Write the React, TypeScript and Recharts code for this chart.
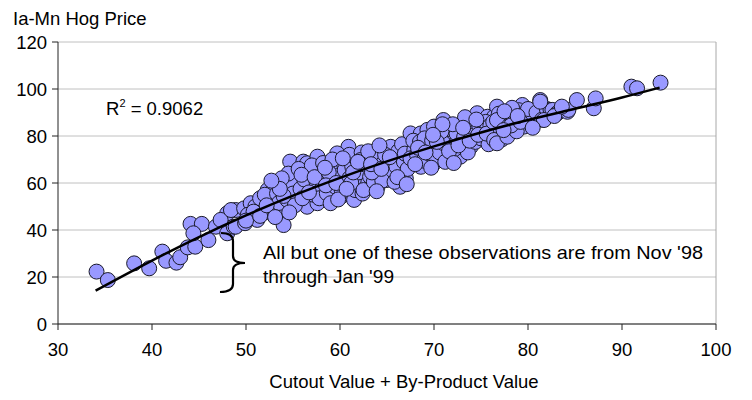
import React from 'react';
import { ScatterChart, Scatter, XAxis, YAxis, CartesianGrid, ReferenceLine } from 'recharts';

// Tick labels
const xTicks = [30, 40, 50, 60, 70, 80, 90, 100];
const yTicks = [0, 20, 40, 60, 80, 100, 120];

// Observations: [cutout + by-product value, Ia-Mn hog price]
const tailPoints: [number, number][] = [
  [34.1, 22.3], [35.3, 18.7], [38.1, 25.8], [39.7, 23.7], [41.1, 30.8], [41.5, 26.9],
  [42.6, 26.1], [43.0, 28.4], [44.1, 42.6], [45.3, 42.6], [43.8, 32.6], [44.6, 32.9],
  [44.4, 38.6], [46.0, 35.7], [46.8, 41.4], [48.0, 38.6], [48.0, 47.1], [47.3, 44.3],
  [48.9, 48.5], [48.7, 41.4],
];

const lowMidPoints: [number, number][] = [
  [48.4, 48.5], [48.9, 41.4], [49.8, 49.2], [50.5, 51.4], [49.9, 42.9], [51.2, 44.3],
  [51.9, 48.5], [52.3, 57.0], [53.0, 59.1], [53.7, 48.5], [54.0, 42.1], [50.2, 46.5],
  [51.0, 50.0], [52.5, 52.5], [52.8, 47.0], [51.5, 53.5], [50.8, 47.8], [52.0, 55.0],
  [53.3, 55.5], [53.5, 51.5],
  [54.7, 69.1], [55.4, 62.7], [56.1, 69.1], [56.5, 68.4], [57.6, 71.2], [57.9, 64.1],
  [56.9, 58.4], [55.4, 52.8], [54.4, 52.8], [56.5, 49.9], [57.6, 51.4], [54.2, 57.5],
  [54.8, 60.0], [55.0, 55.5], [55.8, 57.5], [56.2, 61.5], [56.8, 64.5], [57.2, 55.0],
  [57.5, 60.5], [58.0, 57.0], [54.5, 64.0], [55.6, 66.0], [57.0, 67.5], [58.2, 68.5],
  [53.8, 62.0], [55.2, 50.5], [56.0, 53.5], [57.8, 53.5], [58.3, 62.0], [54.0, 54.5],
  [50.0, 44.0], [51.5, 46.0], [52.2, 50.5], [53.1, 45.5], [54.6, 47.5], [55.9, 63.5],
  [56.7, 56.0], [57.3, 62.5], [53.6, 57.5], [52.7, 61.0],
];

const midPoints: [number, number][] = [
  [59.0, 61.3], [59.3, 66.9], [60.4, 68.4], [60.9, 75.4], [59.7, 72.6], [61.8, 71.2],
  [62.7, 70.5], [62.9, 62.7], [60.8, 59.9], [60.1, 54.2], [58.6, 55.6], [59.0, 51.4],
  [62.2, 58.4], [61.5, 52.8], [59.5, 58.5], [60.0, 63.5], [60.5, 65.5], [61.0, 62.0],
  [61.3, 67.0], [61.6, 57.0], [62.0, 64.5], [62.5, 68.0], [58.8, 64.5], [59.2, 70.0],
  [60.2, 56.5], [61.2, 60.0], [62.4, 55.5], [63.0, 60.0], [58.5, 59.0], [59.8, 53.0],
  [61.0, 72.0], [62.3, 73.0],
  [62.2, 69.8], [62.9, 69.8], [62.5, 57.0], [64.0, 58.4], [64.3, 74.0], [65.4, 75.4],
  [65.0, 66.9], [66.4, 64.1], [66.4, 71.2], [67.3, 75.4], [66.4, 58.4], [65.0, 61.3],
  [63.2, 62.7], [63.5, 66.0], [63.8, 70.5], [64.0, 63.5], [64.6, 68.5], [64.8, 72.0],
  [65.2, 64.0], [65.6, 69.5], [66.0, 67.0], [66.2, 73.5], [66.8, 69.0], [67.0, 62.0],
  [63.0, 73.5], [63.6, 60.5], [64.5, 61.0], [65.8, 60.5], [66.6, 76.5], [67.2, 66.0],
  [63.4, 64.5], [64.2, 76.0],
  [58.4, 66.5], [59.6, 60.0], [60.7, 57.5], [61.4, 64.5], [61.9, 69.0], [63.3, 68.0],
  [64.4, 66.0], [65.3, 71.0], [66.1, 62.5], [66.9, 72.5], [67.1, 59.5], [63.9, 56.5],
  [60.3, 70.5],
];

const highMidPoints: [number, number][] = [
  [67.5, 81.1], [67.9, 74.0], [68.6, 81.1], [69.3, 82.6], [70.0, 84.0], [71.0, 86.8],
  [69.3, 75.4], [68.6, 66.9], [70.0, 68.4], [70.7, 75.4], [71.4, 79.7], [71.8, 71.2],
  [67.5, 70.5], [67.8, 78.0], [68.2, 72.0], [68.5, 77.5], [68.9, 69.5], [69.0, 79.0],
  [69.5, 72.5], [69.8, 78.0], [70.2, 71.0], [70.4, 80.5], [70.6, 73.0], [71.0, 77.0],
  [71.2, 69.0], [71.5, 83.0], [71.9, 75.0], [68.0, 68.0], [69.7, 66.5], [70.8, 82.0],
  [72.5, 78.3], [72.8, 82.6], [73.5, 85.4], [74.2, 82.6], [74.6, 89.7], [75.7, 88.2],
  [76.4, 88.2], [76.7, 92.5], [75.3, 82.6], [76.2, 79.7], [73.9, 75.4], [72.8, 71.2],
  [72.2, 74.5], [72.4, 81.0], [73.0, 76.5], [73.2, 79.5], [73.6, 73.0], [74.0, 80.0],
  [74.4, 77.5], [74.8, 84.5], [75.0, 79.0], [75.5, 86.0], [75.8, 76.5], [76.0, 84.5],
  [76.6, 81.5], [77.0, 86.0], [77.2, 78.5], [73.3, 88.0], [72.0, 85.0], [76.9, 89.5],
  [68.3, 75.0], [69.1, 73.0], [70.3, 77.5], [71.6, 73.5], [72.6, 76.0], [73.8, 78.0],
  [74.7, 80.5], [75.6, 81.0], [76.3, 86.0], [72.1, 68.5], [73.1, 83.5], [74.5, 87.0],
  [70.9, 85.0], [69.9, 80.5],
];

const upperPoints: [number, number][] = [
  [76.7, 86.8], [76.4, 78.3], [76.7, 76.9], [78.1, 89.7], [77.9, 84.0], [77.8, 79.7],
  [79.4, 93.2], [79.6, 89.7], [79.6, 84.0], [80.3, 88.9], [80.6, 85.4], [81.3, 95.3],
  [81.3, 92.5], [81.9, 88.2], [78.5, 86.5], [78.8, 82.0], [79.0, 91.0], [79.8, 87.0],
  [80.0, 91.5], [80.9, 90.0], [81.5, 87.0], [82.0, 91.5], [78.3, 92.0], [77.5, 90.5],
  [82.4, 91.1], [82.6, 91.1], [83.1, 89.7], [83.3, 90.3], [84.2, 90.3], [84.3, 91.1],
  [85.2, 95.3], [87.0, 91.8], [87.2, 96.0], [91.0, 101.0], [91.6, 100.3], [94.1, 102.7],
  [81.7, 86.8], [81.3, 94.6],
  [78.2, 84.5], [79.2, 86.0], [80.5, 83.5], [78.9, 88.5], [77.4, 82.5], [82.8, 88.5],
  [83.6, 92.5],
];

// Polynomial trend line
const trendX = [34, 40, 45, 50, 55, 60, 65, 70, 75, 80, 85, 90, 94];
const trendY = [14.2, 27.0, 37.0, 46.2, 54.6, 62.2, 69.2, 75.6, 81.5, 86.8, 91.6, 96.4, 100.6];

const rSquared = '0.9062';

const observations = [...tailPoints, ...lowMidPoints, ...midPoints, ...highMidPoints, ...upperPoints].map(
  ([x, y]) => ({ x, y })
);
const trend = trendX.map((x, i) => ({ x, y: trendY[i] }));

const FONT = '"Liberation Sans", Arial, sans-serif';

const Dot = (props: any) => {
  const { cx, cy } = props;
  if (cx == null || cy == null) return <g />;
  return <circle cx={cx} cy={cy} r={7.5} fill="#9999FF" stroke="#1a1a2a" strokeWidth={1} />;
};

const NoDot = () => <g />;

const XTick = (props: any) => {
  const { x, y, payload } = props;
  return (
    <text x={x} y={y + 24} textAnchor="middle" fontSize={18.5} fontFamily={FONT} fill="#000">
      {payload.value}
    </text>
  );
};

const YTick = (props: any) => {
  const { x, y, payload } = props;
  return (
    <text x={x - 3} y={y + 6.5} textAnchor="end" fontSize={18.5} fontFamily={FONT} fill="#000">
      {payload.value}
    </text>
  );
};

export default function App() {
  return (
    <div style={{ position: 'absolute', left: 0, top: 0, width: 752, height: 400, background: '#fff' }}>
      <ScatterChart width={752} height={400} margin={{ top: 42, right: 36, bottom: 46, left: 0 }}>
        <CartesianGrid horizontal vertical={false} stroke="#c0c0c0" strokeWidth={1} />
        <XAxis
          type="number"
          dataKey="x"
          domain={[30, 100]}
          ticks={xTicks}
          height={30}
          tickSize={6}
          tick={<XTick />}
          axisLine={{ stroke: '#222' }}
          tickLine={{ stroke: '#222' }}
          allowDataOverflow
        />
        <YAxis
          type="number"
          dataKey="y"
          domain={[0, 120]}
          ticks={yTicks}
          width={58}
          tickSize={6}
          tick={<YTick />}
          axisLine={{ stroke: '#222' }}
          tickLine={{ stroke: '#222' }}
          allowDataOverflow
        />
        <ReferenceLine x={100} stroke="#a8a8a8" strokeWidth={1} />
        <Scatter data={observations} shape={<Dot />} isAnimationActive={false} />
        <Scatter
          data={trend}
          shape={<NoDot />}
          line={{ stroke: '#000', strokeWidth: 2.5 }}
          lineJointType="monotoneX"
          isAnimationActive={false}
        />
      </ScatterChart>
      <svg
        width={752}
        height={400}
        style={{ position: 'absolute', left: 0, top: 0, pointerEvents: 'none' }}
        fontFamily={FONT}
      >
        <text x={13} y={25} fontSize={18.5} fill="#000">Ia-Mn Hog Price</text>
        <text x={404} y={388} fontSize={18.5} fill="#000" textAnchor="middle">Cutout Value + By-Product Value</text>
        <text x={106} y={115} fontSize={18.5} fill="#000">
          R<tspan fontSize={11} dy={-8}>2</tspan>
          <tspan dy={8}>{` = ${rSquared}`}</tspan>
        </text>
        <path
          d="M 221 233 Q 233 233 233 241 L 233 256 Q 233 263 245 263 Q 233 263 233 270 L 233 284 Q 233 292 220 292"
          fill="none"
          stroke="#000"
          strokeWidth={2.2}
        />
        <text x={263} y={259} fontSize={18.5} fill="#000" textLength={440} lengthAdjust="spacingAndGlyphs">
          All but one of these observations are from Nov '98
        </text>
        <text x={263} y={283} fontSize={18.5} fill="#000" textLength={131} lengthAdjust="spacingAndGlyphs">
          through Jan '99
        </text>
      </svg>
    </div>
  );
}
